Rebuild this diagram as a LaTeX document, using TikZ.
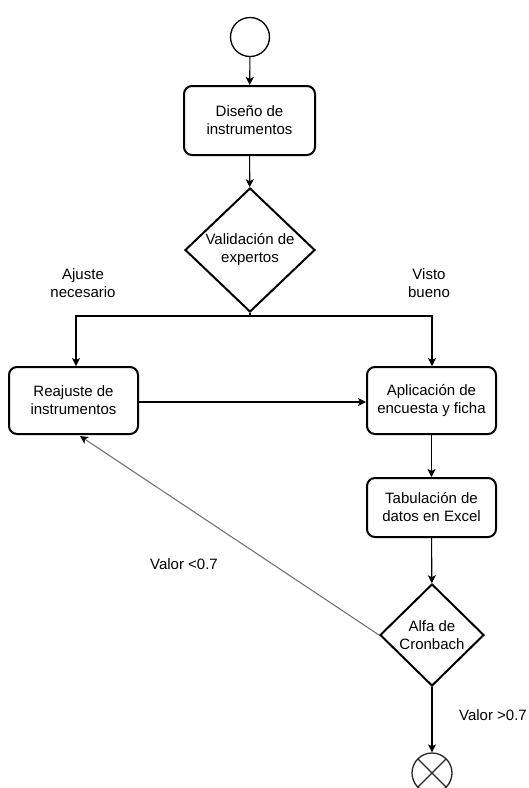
\documentclass[tikz,border=0pt]{standalone}
\usepackage{fontspec}
\setmainfont{Liberation Sans}
\usetikzlibrary{shapes.geometric,arrows.meta,calc}
\begin{document}
\begin{tikzpicture}[x=1pt,y=-1pt,
  every node/.style={font=\fontsize{15}{18}\selectfont, align=center, inner sep=0pt},
  procbox/.style={draw, line width=2pt, rounded corners=8pt, minimum width=#1, minimum height=67pt},
  conn/.style={line width=1.1pt, -{Stealth[length=8pt,width=8pt,inset=2pt]}},
  lbl/.style={text=black}
]
\useasboundingbox (0,0) rectangle (529,788);

\node[draw, circle, line width=1.3pt, minimum size=39pt] (start) at (250,37) {};
\node[procbox=131pt, minimum height=69pt] (dis) at (249.5,120.5) {Diseño de\\instrumentos};
\node[draw, diamond, line width=2pt, minimum width=130pt, minimum height=124pt] (val) at (250,250) {Validación de\\expertos};
\node[procbox=129pt] (reaj) at (73.5,400.5) {Reajuste de\\instrumentos};
\node[procbox=129pt] (apl) at (431.5,400.5) {Aplicación de\\encuesta y ficha};
\node[procbox=129pt, minimum height=59pt] (tab) at (431.5,507.5) {Tabulación de\\datos en Excel};
\node[draw, diamond, line width=2pt, minimum width=104pt, minimum height=102pt] (alfa) at (432,635) {Alfa de\\Cronbach};
\node[draw, circle, line width=1.3pt, draw=black!85, minimum size=40pt,
  path picture={\draw[line width=1.3pt, black!85]
     (path picture bounding box.south west) -- (path picture bounding box.north east)
     (path picture bounding box.north west) -- (path picture bounding box.south east);}] (fin) at (432,773) {};

\coordinate (split) at (250,316);
\coordinate (lefttop) at (76,316);
\coordinate (righttop) at (432,316);
\coordinate (reajin) at (80,436);

\draw[conn] (start) -- (dis);
\draw[conn] (dis) -- (val);
\draw[line width=1.1pt] (val.south) -- (split);
\draw[conn] (split) -- (lefttop) -- (lefttop |- reaj.north);
\draw[conn] (split) -- (righttop) -- (righttop |- apl.north);
\draw[conn] (reaj.east |- 0,402) -- (apl.west |- 0,402);
\draw[conn] (apl) -- (tab);
\draw[conn] (tab) -- (alfa);
\draw[conn] (alfa) -- (fin);
\draw[line width=1.1pt, draw=black!55, -{Stealth[length=8pt,width=8pt,inset=2pt,color=black]}] (alfa.west) -- (reajin);

\node[lbl] (lab1) at (83,283) {Ajuste\\necesario};
\node[lbl] (lab2) at (429,283) {Visto\\bueno};
\node[lbl] (lab3) at (184,564) {Valor <0.7};
\node[lbl] (lab4) at (493,715) {Valor >0.7};
\end{tikzpicture}
\end{document}
